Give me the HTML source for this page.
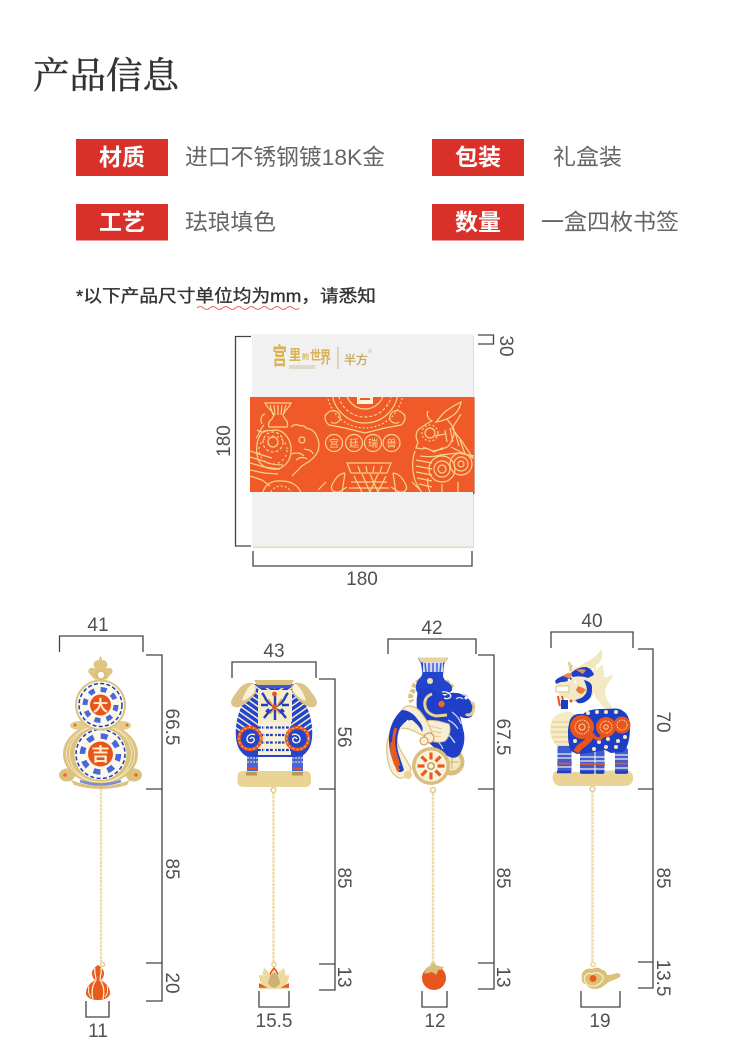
<!DOCTYPE html>
<html lang="zh">
<head>
<meta charset="utf-8">
<style>
html,body{margin:0;padding:0;background:#fff;width:730px;height:1062px;overflow:hidden}
svg{display:block}
.s{font-family:"Liberation Sans","Noto Sans CJK SC",sans-serif}
.d{font-family:"Liberation Sans",sans-serif;font-size:19px;fill:#505050;text-anchor:middle}
.b{font-family:"Liberation Sans","Noto Sans CJK SC",sans-serif;font-size:23px;font-weight:700;fill:#fff;text-anchor:middle}
.t{font-family:"Liberation Sans","Noto Sans CJK SC",sans-serif;font-size:22.5px;fill:#666}
.l{fill:none;stroke:#444;stroke-width:1.3}
.g{fill:none;stroke:#f7d48d;stroke-width:1.200}
.ch{fill:none;stroke:#eddba8;stroke-width:2.400;stroke-dasharray:3 .8}
</style>
</head>
<body>
<svg width="730" height="1062" viewBox="0 0 730 1062" xmlns="http://www.w3.org/2000/svg">
<defs>
<clipPath id="band"><rect x="250" y="397" width="224" height="95"/></clipPath>
<clipPath id="cbody"><path d="M253 684h42c3 8 6 14 10 20 5 8 8 22 7 34-1 9-4 14-10 18l-9 1h-38l-9-1c-6-4-9-9-10-18-1-12 2-26 7-34 4-6 7-12 10-20z"/></clipPath>
<pattern id="st1" width="5" height="5" patternUnits="userSpaceOnUse" patternTransform="rotate(35)"><rect width="5" height="5" fill="#2344cc"/><rect width="5" height="1.500" fill="#f6edcf"/></pattern>
<pattern id="st2" width="5" height="5" patternUnits="userSpaceOnUse" patternTransform="rotate(-35)"><rect width="5" height="5" fill="#2344cc"/><rect width="5" height="1.500" fill="#f6edcf"/></pattern>
</defs>
<rect width="730" height="1062" fill="#fff"/>

<!-- title -->
<text x="33" y="88" font-family="'Liberation Serif','Noto Serif CJK SC',serif" font-size="36.5" fill="#333" stroke="#333" stroke-width=".5" textLength="146" lengthAdjust="spacingAndGlyphs">产品信息</text>

<!-- info rows -->
<rect x="76" y="139" width="92" height="37" fill="#d9312a"/>
<rect x="76" y="204" width="92" height="36.500" fill="#d9312a"/>
<rect x="432" y="139" width="92" height="37" fill="#d9312a"/>
<rect x="432" y="204" width="92" height="36.500" fill="#d9312a"/>
<text class="b" x="122" y="165">材质</text>
<text class="b" x="122" y="230">工艺</text>
<text class="b" x="478" y="165">包装</text>
<text class="b" x="478" y="230">数量</text>
<text class="t" x="185" y="165" textLength="200" lengthAdjust="spacingAndGlyphs">进口不锈钢镀18K金</text>
<text class="t" x="185" y="230" textLength="91" lengthAdjust="spacingAndGlyphs">珐琅填色</text>
<text class="t" x="553" y="165" textLength="69" lengthAdjust="spacingAndGlyphs">礼盒装</text>
<text class="t" x="541" y="230" textLength="138" lengthAdjust="spacingAndGlyphs">一盒四枚书签</text>

<!-- note -->
<text class="s" x="76" y="302" font-size="17.500" fill="#333" stroke="#333" stroke-width=".35" textLength="300" lengthAdjust="spacingAndGlyphs">*以下产品尺寸单位均为mm，请悉知</text>
<path d="M197 308q3.200-3 6.400 0t6.400 0 6.400 0 6.400 0 6.400 0 6.400 0 6.400 0 6.400 0 6.400 0 6.400 0 6.400 0 6.400 0 6.400 0 6.400 0 6.400 0 6.400 0" fill="none" stroke="#e8675f" stroke-width="1"/>

<!-- box -->
<rect x="253" y="336" width="221" height="212" fill="#e8dcc0"/>
<rect x="252" y="334" width="221" height="212.500" fill="#f1f1f1"/>
<rect x="473" y="397" width="1.500" height="97" fill="#a8402a"/>
<rect x="250" y="397" width="224" height="95" fill="#ef5a28"/>
<g clip-path="url(#band)">
  <!-- top mandala -->
  <circle cx="365" cy="390" r="19" class="g"/>
  <circle cx="365" cy="390" r="27" class="g" stroke-width="3" stroke-dasharray="3 2"/>
  <circle cx="365" cy="390" r="33" class="g"/>
  <circle cx="365" cy="390" r="38" class="g" stroke-width="3" stroke-dasharray="2 2"/>
  <rect x="357" y="395" width="16" height="9" fill="#fff3d8"/>
  <rect x="360" y="398" width="10" height="2" fill="#ef5a28"/>
  <path d="M326 415c5-7 12-5 14 1s-6 9-9 6M404 415c-5-7-12-5-14 1s6 9 9 6M326 414c-2 3-1 8 3 11l16 3 20 5 20-5 16-3c4-3 5-8 3-11" class="g" stroke-width="1.600"/>
  <!-- 宫廷瑞兽 -->
  <circle cx="334" cy="443" r="8.500" class="g"/>
  <circle cx="354" cy="443" r="8.500" class="g"/>
  <circle cx="373" cy="443" r="8.500" class="g"/>
  <circle cx="391.500" cy="443" r="8.500" class="g"/>
  <g font-family="'Liberation Sans','Noto Sans CJK SC',sans-serif" font-size="10" fill="#f9d99a" text-anchor="middle">
    <text x="334" y="447">宫</text><text x="354" y="447">廷</text><text x="373" y="447">瑞</text><text x="391.500" y="447">兽</text>
  </g>
  <!-- bottom censer -->
  <path d="M347 463h44l-4 10h-36zM345 473c-7 1-10 6-13 12-2 5 2 8 7 7l8-5M393 473c7 1 10 6 13 12 2 5-2 8-7 7l-8-5M345 473l-3 20M393 473l3 20" class="g" stroke-width="1.500"/>
  <path d="M354 476l8 16M362 474l8 18M370 474l8 18M378 474l-8 18M386 476l-8 16M351 482h36M349 488h40M358 466l2 6M366 466l1 6M374 466l-1 6M382 466l-2 6" class="g" stroke-width="1.700"/>
  <path d="M326 482l-8 8M412 482l8 8" class="g"/>
  <!-- left vase beast -->
  <path d="M265 403h26c-2 5-6 7-8 12l2 4c3 2 3 6 2 8h-18c-1-3 0-6 3-8l2-4c-2-5-7-7-9-12z" class="g" stroke-width="1.500"/>
  <path d="M270 405l3 10M274 405l1 10M278 405v10M282 405l-1 10M286 405l-3 10M264 425c-4 4-5 10-8 13M291 427c3-3 7-3 9-1 2-1 5 0 6 2 5 1 9 3 11 9 3 6 3 14-3 20-6 7-10 6-14 11l-8 8" class="g" stroke-width="1.600"/>
  <path d="M264 431c-7 5-9 17-6 28 3 8 11 11 20 10 9-3 14-11 13-22-1-9-8-17-15-17z" class="g"/>
  <circle cx="273" cy="442" r="5" class="g"/><circle cx="273" cy="442" r="10" class="g" stroke-dasharray="3 2"/><circle cx="273" cy="450" r="14" class="g" stroke-dasharray="2 3"/>
  <path d="M262 424c-2-4-1-9 3-10M268 430c-4 3-8 2-11 0" class="g"/>
  <path d="M250 457l13 4c6 3 13 4 20 4M250 463l14 4 16 2M250 470l14 3 14 1M250 476l12 4 8 6M250 451l12 4 10 3" class="g" stroke-width="1.400"/>
  <circle cx="302" cy="440" r="3" class="g"/><path d="M304 449c4 1 8 1 9 5M292 454c4-2 9-1 12 2M296 460c4-3 8-3 11-1" class="g"/>
  <path d="M263 492c2-8 10-12 19-11 9 0 17 5 19 12" class="g" stroke-width="1.800"/>
  <path d="M271 492c2-4 6-6 10-6s8 2 10 6" class="g" stroke-dasharray="2 2"/>
  <!-- right qilin -->
  <path d="M461 402c-6 3-11 6-15 9-5 4-7 8-10 11 6-1 12-3 16-6 5-3 8-8 9-14zM461 414c-3 5-6 10-9 14 3 4 6 9 9 12l12 18-22-11" class="g" stroke-width="1.500"/>
  <path d="M450 428l3 14M455 432l4 14M460 440l5 14M445 430l2 12" class="g"/>
  <path d="M428 411c-2 3 0 6 1 8l3 2c-5 2-10 6-14 9-3 4-2 9 0 12l-2 6 7 1c4-2 7 1 11 3l8-4c5 1 8-3 10-8 2-4 3-9 1-13l-6-8" class="g" stroke-width="1.600"/>
  <circle cx="430" cy="433" r="5" class="g"/><circle cx="430" cy="433" r="8" class="g" stroke-dasharray="2 2"/><path d="M435 436l10-2M423 447l10 4 10-2" class="g" stroke-width="1.700"/>
  <path d="M415 451c-4 12-3 27 4 37l3 5M420 456c7 1 14 1 20-1l18-2 16 3" class="g" stroke-width="1.500"/>
  <path d="M416 460l16 3M416 466l16 3M416 472l16 3M417 478l15 3M419 484l13 3" class="g" stroke-width="1.500"/>
  <circle cx="442" cy="469" r="4" class="g"/><circle cx="442" cy="469" r="8" class="g"/><circle cx="442" cy="469" r="13" class="g"/>
  <circle cx="461" cy="464" r="3" class="g"/><circle cx="461" cy="464" r="7" class="g"/><circle cx="461" cy="464" r="11" class="g"/>
  <path d="M442 484v8M458 482v10M428 478c-1 6 0 10 2 14" class="g"/>
</g>
<!-- logo -->
<g font-family="'Liberation Sans','Noto Sans CJK SC',sans-serif" font-weight="700" fill="#d9b052">
  <text transform="translate(272.500 364) scale(.8 1.300)" font-size="18">宫</text>
  <text transform="translate(289 360) scale(1 1.200)" font-size="12">里</text>
  <text transform="translate(302 359)" font-size="7">的</text>
  <text transform="translate(310 360) scale(1 1.200)" font-size="11">世</text>
  <text transform="translate(320 363) scale(1 1.500)" font-size="11">界</text>
</g>
<rect x="289" y="365" width="26" height="4" fill="#e0d8c8"/>
<rect x="337.500" y="347" width="0.900" height="22" fill="#c9a860"/>
<text x="344" y="364" font-family="'Liberation Sans','Noto Sans CJK SC',sans-serif" font-size="12" fill="#c9a455" stroke="#c9a455" stroke-width=".3">半方</text>
<circle cx="370" cy="351" r="1.300" fill="none" stroke="#c9a455" stroke-width="0.500"/>

<!-- box dimensions -->
<path class="l" d="M251 336.500H235.500V546H251"/>
<path class="l" d="M253 551V566H472V551"/>
<path class="l" d="M478 335H493.500V344H478"/>
<text class="d" transform="translate(230 441) rotate(-90)" x="0" y="0">180</text>
<text class="d" x="362" y="585">180</text>
<text class="d" transform="translate(500 346) rotate(90)">30</text>

<!-- ============ bookmark 1: gourd ============ -->
<path class="l" d="M59.500 652V636H143V652"/>
<path class="l" d="M146 655H162V1001H146M146 789H162M146 963H162"/>
<path class="l" d="M86 1001V1017H109V1001"/>
<text class="d" x="98" y="631">41</text>
<text class="d" x="98" y="1037">11</text>
<text class="d" transform="translate(166 727) rotate(90)">66.5</text>
<text class="d" transform="translate(166 869) rotate(90)">85</text>
<text class="d" transform="translate(166 983) rotate(90)">20</text>
<path class="ch" d="M101 785V962"/>
<!-- crown -->
<path d="M100.500 655.500l2 5c3-1 5 2 5 5l-2 3c4-2 8 0 7 4l-6 7h-12l-6-7c-1-4 3-6 7-4l-2-3c0-3 2-6 5-5z" fill="#dfc584"/>
<circle cx="101" cy="675" r="4.200" fill="#fff" stroke="#d8bb75" stroke-width="2"/>
<!-- lower fans & side lobes -->
<ellipse cx="100.500" cy="754" rx="37.500" ry="30" fill="#dcc27f"/>
<ellipse cx="79" cy="725.500" rx="9" ry="4.500" fill="#e3cc8c"/>
<ellipse cx="122" cy="725.500" rx="9" ry="4.500" fill="#e3cc8c"/>
<ellipse cx="67" cy="775" rx="8" ry="6.500" fill="#dcc27f"/>
<ellipse cx="134" cy="775" rx="8" ry="6.500" fill="#dcc27f"/>
<path d="M71 780q30 12 59 0l-3 5q-26 8-53 0z" fill="#dcc27f"/>
<ellipse cx="100.500" cy="754" rx="31" ry="28" fill="none" stroke="#f6ecca" stroke-width=".8"/>
<ellipse cx="100.500" cy="754" rx="34" ry="28" fill="none" stroke="#f6ecca" stroke-width=".8"/>
<path d="M80 781q20 7 41 0" fill="none" stroke="#7d8cd2" stroke-width="2.600"/>
<circle cx="65" cy="775" r="1.800" fill="#ec6a32"/><circle cx="136" cy="775" r="1.800" fill="#ec6a32"/>
<circle cx="127" cy="725" r="1.500" fill="#ec6a32"/><circle cx="75" cy="725" r="1.500" fill="#ec6a32"/>
<!-- lower disc -->
<circle cx="100.500" cy="754" r="27.500" fill="#dcc27f"/>
<circle cx="100.500" cy="754" r="26" fill="#fdf9ea"/>
<circle cx="100.500" cy="754" r="24.500" fill="none" stroke="#1b3cc4" stroke-width="1.500" stroke-dasharray="4 2.400"/>
<circle cx="100.500" cy="754" r="18" fill="none" stroke="#4a66dc" stroke-width="5.500" stroke-dasharray="7 7.140"/>
<circle cx="100.500" cy="754" r="12.500" fill="#e8541c"/>
<text x="100.500" y="761" text-anchor="middle" font-family="'Liberation Sans','Noto Sans CJK SC',sans-serif" font-size="18" font-weight="700" fill="#fbeec8">吉</text>
<!-- upper disc -->
<circle cx="100.500" cy="705" r="25.500" fill="#dcc27f"/>
<circle cx="100.500" cy="705" r="23.500" fill="#fdf9ea"/>
<circle cx="100.500" cy="705" r="21.500" fill="none" stroke="#1b3cc4" stroke-width="1.500" stroke-dasharray="4 2.300"/>
<circle cx="100.500" cy="705" r="15.500" fill="none" stroke="#4a66dc" stroke-width="5" stroke-dasharray="6 6.170"/>
<circle cx="100.500" cy="705" r="10.500" fill="#e8541c"/>
<text x="100.500" y="711" text-anchor="middle" font-family="'Liberation Sans','Noto Sans CJK SC',sans-serif" font-size="15.500" font-weight="700" fill="#fbeec8">大</text>
<!-- pendant gourd -->
<circle cx="102.500" cy="964.500" r="2" fill="none" stroke="#e3c986" stroke-width="1.300"/>
<path d="M98 965c-3 2-6 5-6 8 0 3 1 5 3 7-1 1-3 2-5 4-3 3-4 6-4 9 0 4 5 7 12 7s12-3 12-7c0-3-1-6-4-9-2-2-4-3-5-4 2-2 3-4 3-7 0-3-3-6-6-8z" fill="#ea5a1c"/>
<path d="M95 968c-1 4 1 8 1 12-3 4-5 10-3 19M101 968c1 4-1 8-1 12 3 4 5 10 3 19" fill="none" stroke="#fdeecb" stroke-width="1.300"/>
<path d="M89 986c-1 4-1 8 2 11M107 986c1 4 1 8-2 11" fill="none" stroke="#fdeecb" stroke-width="1"/>

<!-- ============ bookmark 2: beast censer ============ -->
<path class="l" d="M232 678V662H316V678"/>
<path class="l" d="M319 679H335V990H319M319 789H335M319 964H335"/>
<path class="l" d="M259 991V1007H289V991"/>
<text class="d" x="274" y="657">43</text>
<text class="d" x="274" y="1027">15.5</text>
<text class="d" transform="translate(338 737) rotate(90)">56</text>
<text class="d" transform="translate(338 878) rotate(90)">85</text>
<text class="d" transform="translate(338 977) rotate(90)">13</text>
<path class="ch" d="M273.500 792V963"/>
<circle cx="273.500" cy="790" r="2.500" fill="#fff" stroke="#e3c986" stroke-width="1.500"/>
<!-- base -->
<rect x="237.500" y="771" width="73.500" height="16" rx="5" fill="#e9d395"/>
<!-- legs -->
<rect x="247" y="750" width="11" height="21" fill="#4a66d4"/>
<rect x="292" y="750" width="11" height="21" fill="#4a66d4"/>
<path d="M247 754h11M247 758h11M247 762h11M292 754h11M292 758h11M292 762h11" stroke="#f6edcf" stroke-width="1" stroke-dasharray="2 1"/>
<rect x="246" y="772" width="11" height="3.500" fill="#b79a58"/>
<rect x="292" y="772" width="11" height="3.500" fill="#b79a58"/>
<path d="M248 768.500h9M293 768.500h9" stroke="#e8541c" stroke-width="1.400"/>
<!-- body -->
<path d="M253 684h42c3 8 6 14 10 20 5 8 8 22 7 34-1 9-4 14-10 18l-9 1h-38l-9-1c-6-4-9-9-10-18-1-12 2-26 7-34 4-6 7-12 10-20z" fill="#2344cc"/>
<g clip-path="url(#cbody)">
  <rect x="230" y="683" width="45" height="50" fill="url(#st1)"/>
  <rect x="275" y="683" width="45" height="50" fill="url(#st2)"/>
</g>
<!-- lattice -->
<rect x="258" y="722" width="33" height="33" fill="#f8f1d6"/>
<path d="M258 727.500h33M258 735h33M258 742.500h33M258 750h33" stroke="#1d3dc4" stroke-width="2.200" stroke-dasharray="2.800 1.200"/>
<path d="M264 723v30M274.500 723v30M285 723v30" stroke="#f8f1d6" stroke-width="1.300"/>
<!-- rim & panel -->
<path d="M254 680h40l-3 5h-34z" fill="#dcc27f"/>
<path d="M258 685h33v3h-33z" fill="#3a58d8"/>
<rect x="258" y="690" width="34" height="32" fill="#f8ecc4"/>
<path d="M262 693c4 4 3 8 8 11l5 3 5-3c5-3 4-7 8-11M264 718c3-4 6-8 11-9 5 1 8 5 11 9M261 705h7M282 705h7M275 696v24M266 712l3-3M284 712l-3-3" fill="none" stroke="#1f3fc4" stroke-width="2.400"/>
<path d="M268 699l7 9 7-9M270 714l5-6 5 6" fill="none" stroke="#e8a53a" stroke-width="1.600"/>
<circle cx="274.500" cy="694" r="2.400" fill="#e8541c"/><circle cx="274.500" cy="707" r="2.400" fill="#e8541c"/>
<!-- ears -->
<path d="M253 683c-6-1-11 2-14 6-4 5-7 9-8 13 0 4 3 6 8 5 6-2 12-8 16-13l2-8z" fill="#dcc387"/>
<path d="M252 684c-4 3-8 9-10 17 4-1 10-5 13-10 1-3 0-7-3-7z" fill="#f8f1d6"/>
<path d="M295 683c6-1 11 2 14 6 4 5 7 9 8 13 0 4-3 6-8 5-6-2-12-8-16-13l-2-8z" fill="#dcc387"/>
<path d="M296 684c4 3 8 9 10 17-4-1-10-5-13-10-1-3 0-7 3-7z" fill="#f8f1d6"/>
<!-- spirals -->
<circle cx="250" cy="738.500" r="11" fill="#2344cc" stroke="#ea5a1c" stroke-width="3.400"/>
<circle cx="250" cy="738.500" r="11" fill="none" stroke="#fbe3b0" stroke-width="1" stroke-dasharray="1.200 3"/>
<path d="M250 739c2-3 5-1 4 2-2 3-7 2-7-2s5-6 8-4" fill="none" stroke="#f8f1d6" stroke-width="1.400"/>
<circle cx="297.500" cy="738.500" r="11" fill="#2344cc" stroke="#ea5a1c" stroke-width="3.400"/>
<circle cx="297.500" cy="738.500" r="11" fill="none" stroke="#fbe3b0" stroke-width="1" stroke-dasharray="1.200 3"/>
<path d="M297 739c-2-3-5-1-4 2 2 3 7 2 7-2s-5-6-8-4" fill="none" stroke="#f8f1d6" stroke-width="1.400"/>
<!-- lotus -->
<circle cx="274" cy="964.500" r="2.200" fill="none" stroke="#e3c986" stroke-width="1.200"/>
<path d="M274 967c3 3 5 7 6 11l-6 9-6-9c1-4 3-8 6-11z" fill="#ea5a1c"/>
<path d="M274 969.500c2 2 4 6 4 9l-4 5-4-5c0-3 2-7 4-9z" fill="#f5e4ae"/>
<path d="M264 968c3 2 6 5 7 9l3 10-9-1c-3-5-3-12-1-18zM284 968c-3 2-6 5-7 9l-3 10 9-1c3-5 3-12 1-18zM259 975c4 0 8 3 11 7l3 6h-8c-4-3-6-8-6-13zM289 975c-4 0-8 3-11 7l-3 6h8c4-3 6-8 6-13z" fill="#eeda9f"/>
<path d="M274 972c4 3 6 8 6 12l-6 5-6-5c0-4 2-9 6-12z" fill="#cdb277"/>
<path d="M259 983l9 5h-9zM289 983l-9 5h9z" fill="#ea5a1c"/>
<path d="M260 988.500h28" stroke="#f0e2b3" stroke-width="1.500"/>

<!-- ============ bookmark 3: vase beast ============ -->
<path class="l" d="M388 654V639H476V654"/>
<path class="l" d="M478 655H494V989H478M478 789H494M478 963H494"/>
<path class="l" d="M422 991V1007H447V991"/>
<text class="d" x="432" y="634">42</text>
<text class="d" x="435" y="1027">12</text>
<text class="d" transform="translate(497 737) rotate(90)">67.5</text>
<text class="d" transform="translate(497 878) rotate(90)">85</text>
<text class="d" transform="translate(497 977) rotate(90)">13</text>
<path class="ch" d="M433 793V964"/>
<circle cx="433" cy="790" r="2.500" fill="#fff" stroke="#e3c986" stroke-width="1.500"/>
<!-- back wheel -->
<circle cx="451" cy="762" r="13.500" fill="#d8bd7c"/>
<circle cx="452" cy="762" r="8.500" fill="#f3e8c4"/>
<path d="M452 755v14M446 762h13" stroke="#cdb277" stroke-width="1"/>
<!-- beaded mane left -->
<path d="M420 681c-5 2-7 6-7 10-3 4-3 8-1 11" fill="none" stroke="#dcc27f" stroke-width="5" stroke-dasharray="4 1.500"/>
<path d="M446 681c4 3 6 5 8 8" fill="none" stroke="#dcc27f" stroke-width="4" stroke-dasharray="4 1.500"/>
<!-- vase -->
<path d="M418 658h30l-4 6-1 12c1 4 3 5 6 7 5 4 4 10-3 11h-28c-3-4-3-10 1-15 3-3 4-5 3-9l-1-6z" fill="#2344cc"/>
<path d="M418 657.500h30l-3 5h-24z" fill="#e9d395"/>
<rect x="423" y="662" width="20" height="10" fill="#cfd6f2"/>
<path d="M425 663l1 9M429 663v9M433 663v9M437 663v9M441 663l-1 9" stroke="#3a58d8" stroke-width="1.400"/>
<circle cx="430" cy="681" r="3" fill="#f5e2a8"/>
<!-- body -->
<path d="M419 688c-3 8-3 18-1 28 2 8 3 16 6 21 7 9 16 16 26 20 4 2 8 0 10-3 4-7 5-14 4-21l-4-17c4 3 9 3 12 0 3-4 2-10-1-14-3-5-9-9-15-9-5-1-9 1-11 3-8-6-18-9-26-8z" fill="#1e3fc6"/>
<path d="M452 712c4 3 8 7 9 12M440 729c5 2 11 7 14 13M432 737c5 3 9 7 11 12M462 695c2-1 5 0 6 2M456 699c2-2 5-2 7 0M447 734c3 2 6 5 8 9M448 720c4 2 8 5 10 9" fill="none" stroke="#c8d2f4" stroke-width="1.300"/>
<circle cx="466" cy="698" r="1.500" fill="#fff"/>
<path d="M471 703c4-1 3 6 2 9-2 3-5 4-7 2" fill="none" stroke="#e3cd90" stroke-width="3"/>
<!-- inner gold curl + orange flower -->
<path d="M432 694c-6 2-8 7-7 12 1 6 6 9 11 10l11-1" fill="none" stroke="#e9d395" stroke-width="3"/>
<circle cx="441.500" cy="704" r="3.200" fill="#ea6a2c"/>
<path d="M442 692c4-1 8 1 9 4-1 3-5 3-7 2" fill="none" stroke="#f0f3ff" stroke-width="1.300"/>
<!-- white fan body -->
<path d="M424 722c5-3 11-1 14-1l11 3c2 5 1 12-4 17-8 3-16 0-21-5-3-4-3-10 0-14z" fill="#f7efd4" stroke="#dcc27f" stroke-width="1"/>
<path d="M427 725l15 4M426 730l16 3M428 735l13 2" stroke="#dcc27f" stroke-width="0.800"/>
<!-- left tail -->
<path d="M407 706c6-1 12 3 15 8 4 5 8 13 10 19-4 3-10 3-14 0-8-4-18-8-20-1-2 8 0 14 3 19l10 17c-1 5-6 11-12 10-7-3-9-9-11-17-2-9-2-19 2-28 4-9 9-24 17-27z" fill="#f7efd4" stroke="#dcc27f" stroke-width="1.200"/>
<path d="M402 710c-6 5-10 12-12 20-2 8-1 17 1 25l6 16c3 2 5 1 7-1l-4-12c-3-8-4-17-2-24 2-8 7-14 14-14 4 3 8 7 10 12 2-4-1-9-4-12-3-5-9-10-16-10z" fill="#1f3fc4"/>
<path d="M392 742c-1 9 1 15 3 21l4 8M396 728c-3 8-3 15-1 24l4 14" fill="none" stroke="#ea5a1c" stroke-width="3"/>
<path d="M401 727l-2 5M408 720l-3 4M413 725l-2 4" stroke="#fff" stroke-width="1.200"/>
<circle cx="429" cy="738" r="5" fill="#f7efd4" stroke="#e08850" stroke-width="1"/>
<circle cx="424" cy="741" r="4" fill="#f7efd4" stroke="#e08850" stroke-width="1"/>
<circle cx="408" cy="775" r="4" fill="#e9d395"/>
<!-- front wheel -->
<circle cx="431" cy="766" r="19" fill="#d8bd7c"/>
<circle cx="431" cy="766" r="15.500" fill="#fbf4dc"/>
<g stroke="#ea5a1c" stroke-width="3.200" fill="none">
  <path d="M431 752.500v7M431 772.500v7M417.500 766h7M437.500 766h7M421.500 756.500l5 5M435.500 770.500l5 5M440.500 756.500l-5 5M426.500 770.500l-5 5"/>
</g>
<circle cx="431" cy="766" r="3.200" fill="#fbf4dc" stroke="#b59c60" stroke-width="1.500"/>
<!-- persimmon -->
<circle cx="433" cy="964.500" r="2" fill="none" stroke="#e3c986" stroke-width="1.200"/>
<circle cx="434" cy="978" r="12" fill="#e8551c"/>
<path d="M426 968c3-1 5-3 7-5 2 1 4 3 6 3l5 1c-1 2-3 3-6 3 0 2-1 3-2 5-2-2-3-3-5-3-2 1-5 2-7 1 1-2 2-3 2-5z" fill="#d8bd7c"/>

<!-- ============ bookmark 4: qilin ============ -->
<path class="l" d="M551 648V632H633V648"/>
<path class="l" d="M638 649H653V988H638M638 789H653M638 962H653"/>
<path class="l" d="M581 991V1007H620V991"/>
<text class="d" x="592" y="627">40</text>
<text class="d" x="600" y="1027">19</text>
<text class="d" transform="translate(657 722) rotate(90)">70</text>
<text class="d" transform="translate(657 878) rotate(90)">85</text>
<text class="d" transform="translate(657 978) rotate(90)">13.5</text>
<path class="ch" d="M592.500 791V962"/>
<circle cx="592.500" cy="789" r="2.500" fill="#fff" stroke="#e3c986" stroke-width="1.500"/>
<!-- base -->
<path d="M556 771c-3 1-4 5-3 9 1 4 4 6 8 6h64c4 0 7-2 8-6 1-4-1-8-4-9-20-1-20-1-30 1h-23z" fill="#e9d395"/>
<!-- horn + mane -->
<path d="M601 649c-2 5-6 8-11 11-5 3-10 5-13 9l4 6c4-3 6-1 9 0 1-6 4-9 8-11 4-4 5-9 3-15z" fill="#f1e6bd"/>
<path d="M596 664c-3 5-4 9-3 14-1 7 0 14 3 20l10 12 8 0c-4-6-9-11-9-18 1-4 2-7 4-10 2-3 4-6 4-8-4 2-7 4-9 3 0-4 0-9-2-12-3 2-5 4-6 6z" fill="#f3e9c4"/>
<!-- chest -->
<path d="M553 718c5-5 12-7 18-6l6 3c-4 5-7 10-7 16 0 6 2 14 6 20l-5 3c-6-3-12-6-16-10-3-4-5-9-5-14 0-4 1-8 3-12z" fill="#f5ebc7"/>
<path d="M552 722h20M551 727h18M551 732h17M552 737h16M554 742h15M557 746h14" stroke="#d9c07c" stroke-width="0.800"/>
<!-- legs -->
<g>
  <rect x="557.500" y="746" width="14" height="27" rx="2" fill="#3f5cd0"/>
  <rect x="580" y="750" width="14.500" height="24" rx="2" fill="#3f5cd0"/>
  <rect x="595.500" y="750" width="9" height="24" rx="2" fill="#3f5cd0"/>
  <rect x="615" y="748" width="13" height="26" rx="2" fill="#3f5cd0"/>
  <path d="M557 754h15M557 758h15M557 767h15M580 757h15M580 761h15M580 769h15M595 757h10M595 761h10M595 769h10M615 755h13M615 759h13M615 768h13" stroke="#f2f0e2" stroke-width="1.200"/>
  <path d="M557 763.500h15M580 764h25M615 763.500h13" stroke="#e8551c" stroke-width="1.800"/>
  <path d="M557 772h14M580 772h14M596 772h8M615 772h13" stroke="#1e3ec6" stroke-width="2.500"/>
</g>
<!-- body -->
<path d="M569 724c1-8 6-11 14-10 5-4 10-5 20-5 10 0 15-2 20 2 5 3 7 9 7 16 0 9-1 15-4 22l-3 3-12 1-6-3-16 3-12 1-6-3c-2-5-3-10-3-15 0-5 0-8 1-12z" fill="#1e3ec6"/>
<!-- spots -->
<g fill="#f5e9bd">
  <circle cx="588" cy="713" r="2"/><circle cx="597" cy="712" r="2"/><circle cx="606" cy="712" r="2"/><circle cx="616" cy="712" r="2"/><circle cx="575" cy="741" r="2"/><circle cx="599" cy="742" r="2"/><circle cx="608" cy="739" r="2"/><circle cx="618" cy="741" r="2"/><circle cx="606" cy="747" r="2"/><circle cx="594" cy="749" r="2"/><circle cx="625" cy="737" r="2"/><circle cx="616" cy="747" r="2"/>
</g>
<!-- spirals -->
<path d="M592 733c-1 5-4 8-8 11-4 2-6 5-8 8" fill="none" stroke="#e8551c" stroke-width="6"/>
<circle cx="582" cy="727" r="12" fill="#e8551c"/>
<circle cx="582" cy="727" r="7" fill="none" stroke="#f6d9a0" stroke-width="1" stroke-dasharray="1.500 1"/>
<circle cx="582" cy="727" r="3" fill="none" stroke="#f6d9a0" stroke-width="1"/>
<circle cx="606" cy="727" r="10" fill="#e8551c"/>
<circle cx="606" cy="727" r="6" fill="none" stroke="#f6d9a0" stroke-width="1" stroke-dasharray="1.500 1"/>
<circle cx="606" cy="727" r="2.200" fill="none" stroke="#f6d9a0" stroke-width="1"/>
<circle cx="622" cy="725" r="8.500" fill="#e8551c"/>
<circle cx="622" cy="725" r="5" fill="none" stroke="#f6d9a0" stroke-width="1" stroke-dasharray="1.500 1"/>
<path d="M591 734c3 3 5 5 8 5 3-1 4-4 6-6" fill="none" stroke="#e8551c" stroke-width="3.500"/>
<!-- head -->
<path d="M569 672c4-4 10-7 17-6 4 1 7 4 8 8l-1 11c1 5 1 9-1 12-3 3-8 5-12 6-4-1-7-1-10-3l-10-4-3-8 1-9c2-3 6-4 11-7z" fill="#f3e9c4"/>
<path d="M570 674c4-4 9-7 16-7 4 1 7 4 8 8l-6 3c-5-2-10-2-15-1z" fill="#1e3ec6"/>
<path d="M555 681c3-4 8-5 14-7l3 5c-3 2-7 3-11 3l-5 2z" fill="#2340c8"/>
<path d="M563 676c3-3 6-3 9-3l-2 6zM576 670c3-1 7-1 10 0l-3 4z" fill="#ea8a52"/>
<path d="M584 680c4 1 8 3 8 7 0 5 0 9-3 12-3 3-7 5-11 4l-3-3c5-1 9-3 11-7 2-4 0-8-2-13z" fill="#1e3ec6"/>
<path d="M578 686c3 1 6 2 8 4l-4 4c-3 0-5-2-6-4z" fill="#e87a40"/>
<rect x="556" y="686" width="13" height="6" rx="1" fill="#fff" stroke="#dcc27f" stroke-width="1"/>
<path d="M558 696c1 5 1 7 2 10M562 696l1 4" stroke="#e8551c" stroke-width="2"/>
<rect x="561" y="700" width="7" height="9" fill="#1e3ec6"/>
<circle cx="571" cy="701" r="1.500" fill="#e8551c"/>
<circle cx="575" cy="682" r="1.300" fill="#fff"/><circle cx="569" cy="680" r="1.300" fill="#fff"/>
<path d="M569 662l2 9M572 665l-2 5" stroke="#e3cd90" stroke-width="2.500"/>
<!-- cloud -->
<circle cx="593" cy="964.500" r="2.200" fill="none" stroke="#e3c986" stroke-width="1.200"/>
<path d="M583 972c2-3 6-4 9-3 3-2 8-2 10 1 3 0 5 3 5 5 4 0 7-1 10-2 3 0 4 2 3 4-3 2-7 3-11 5-4 2-7 7-14 7-4 0-8-2-9-5-3 0-5-3-4-6-1-2 0-5 1-6z" fill="#dcbf78"/>
<path d="M585 976c2-3 5-3 7-2 2-2 6-2 8 0 3 1 4 4 2 7-2 3-5 5-9 5-3 0-6-1-7-3-2-2-2-5-1-7z" fill="none" stroke="#f6ecca" stroke-width="1.300"/>
<circle cx="593" cy="978.500" r="3.400" fill="#ea5a1c"/>
</svg>
</body>
</html>
